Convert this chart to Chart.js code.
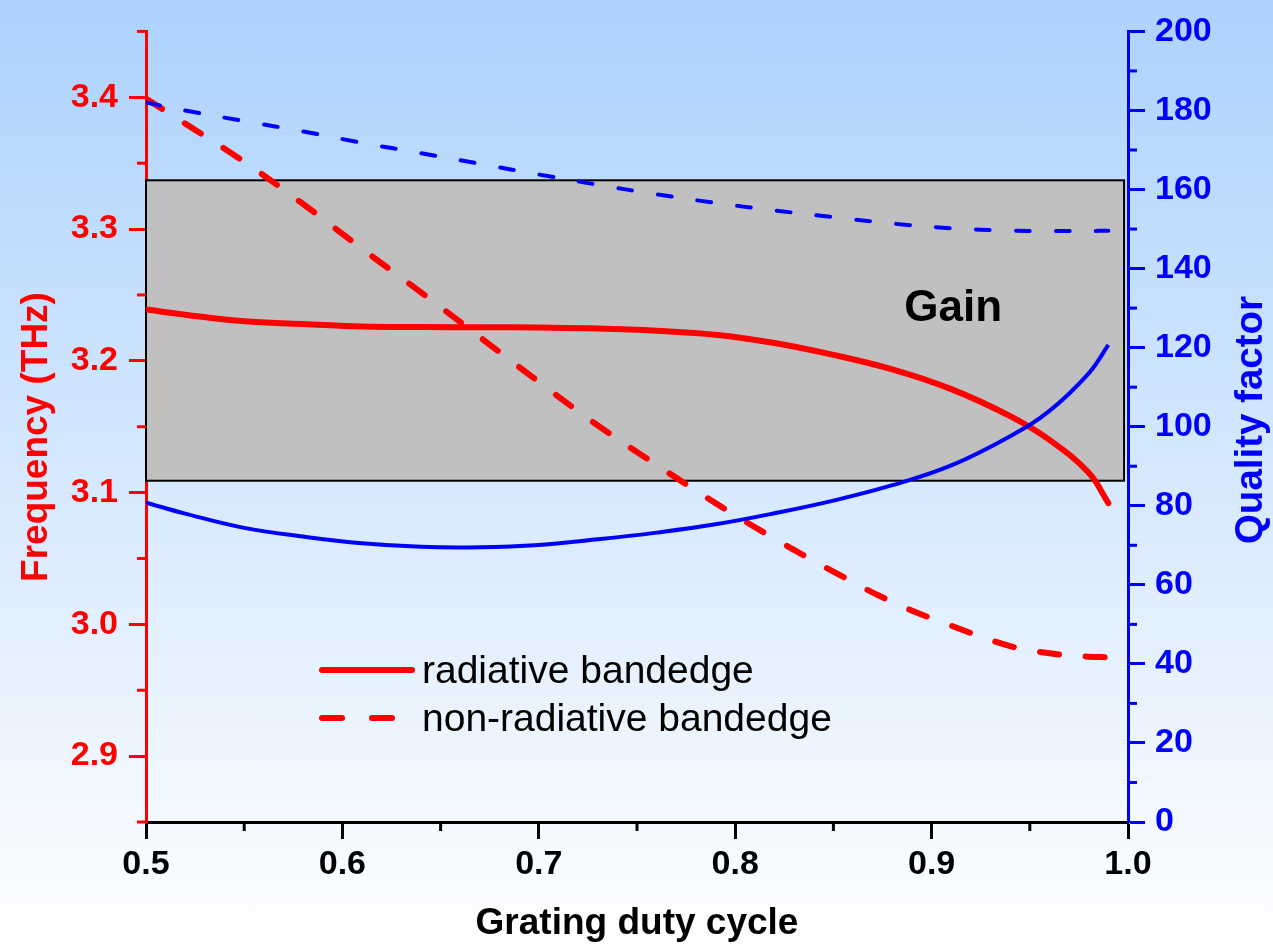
<!DOCTYPE html>
<html>
<head>
<meta charset="utf-8">
<script src="https://cdn.jsdelivr.net/npm/chart.js@4.4.1/dist/chart.umd.min.js"></script>
<style>
html, body { margin: 0; padding: 0; }
body { width: 1273px; height: 949px; background: linear-gradient(to bottom, #acd2fd 0%, #ffffff 100%); }
</style>
</head>
<body>
<canvas id="myChart" width="1273" height="949"></canvas>
<script>
// grating duty cycle (x)
var duty = [0.50, 0.52, 0.55, 0.58, 0.61, 0.64, 0.67, 0.70, 0.73, 0.76, 0.79, 0.82, 0.85, 0.88, 0.91, 0.94, 0.96, 0.98, 0.99];

// frequency (THz), left axis
var radiative    = [3.239, 3.235, 3.230, 3.228, 3.226, 3.2256, 3.2255, 3.2252, 3.2245, 3.2228, 3.2198, 3.2135, 3.2045, 3.1935, 3.1785, 3.158, 3.140, 3.115, 3.092];
var nonRadiative = [3.399, 3.380, 3.351, 3.319, 3.285, 3.252, 3.218, 3.184, 3.151, 3.121, 3.092, 3.065, 3.040, 3.017, 2.999, 2.9835, 2.978, 2.9755, 2.975];

// quality factor, right axis
var qRadiative    = [80.8, 78.0, 74.4, 72.2, 70.5, 69.6, 69.5, 70.1, 71.5, 73.2, 75.3, 78.1, 81.3, 85.2, 90.2, 97.6, 104.0, 113.5, 120.7];
var qNonRadiative = [182.0, 180.0, 177.3, 174.7, 171.8, 169.2, 166.5, 163.8, 161.2, 158.8, 156.6, 154.7, 153.0, 151.4, 150.2, 149.6, 149.5, 149.5, 149.6];

// tick values
var xTicks = [0.5, 0.6, 0.7, 0.8, 0.9, 1.0];
var freqTicks = [2.9, 3.0, 3.1, 3.2, 3.3, 3.4];
var qTicks = [0, 20, 40, 60, 80, 100, 120, 140, 160, 180, 200];
var xMinor = [0.55, 0.65, 0.75, 0.85, 0.95];
var freqMinor = [2.85, 2.95, 3.05, 3.15, 3.25, 3.35, 3.45];
var qMinor = [10, 30, 50, 70, 90, 110, 130, 150, 170, 190];

// gain window (THz) and where the box stops on x
var gainBand = [3.109, 3.337];
var gainEnd = 0.998;

var FONT = '"Liberation Sans", Arial, Helvetica, sans-serif';
var RED = '#ff0000';
var BLUE = '#0000ff';

function pts(ys) {
    return duty.map(function (x, i) { return { x: x, y: ys[i] }; });
}

function fixedTicks(vals) {
    return function (s) { s.ticks = vals.map(function (v) { return { value: v }; }); };
}

// grey gain box + label, under the curves
var gainBox = {
    id: 'gainBox',
    beforeDatasetsDraw: function (chart) {
        var c = chart.ctx, sx = chart.scales.x, sy = chart.scales.y;
        var x0 = sx.getPixelForValue(0.5), x1 = sx.getPixelForValue(gainEnd);
        var y0 = sy.getPixelForValue(gainBand[1]), y1 = sy.getPixelForValue(gainBand[0]);
        c.save();
        c.fillStyle = '#c0c0c0';
        c.fillRect(x0, y0, x1 - x0, y1 - y0);
        c.strokeStyle = '#000';
        c.lineWidth = 2;
        c.strokeRect(x0, y0, x1 - x0, y1 - y0);
        c.fillStyle = '#000';
        c.font = 'bold 44px ' + FONT;
        c.textAlign = 'center';
        c.textBaseline = 'alphabetic';
        c.fillText('Gain', sx.getPixelForValue(0.911), sy.getPixelForValue(3.23));
        c.restore();
    }
};

// minor ticks, y titles, legend
var extras = {
    id: 'extras',
    afterDraw: function (chart) {
        var c = chart.ctx, a = chart.chartArea;
        var sx = chart.scales.x, sy = chart.scales.y, sq = chart.scales.y2;
        c.save();
        c.lineWidth = 3;
        c.lineCap = 'butt';

        c.strokeStyle = '#000';
        xMinor.forEach(function (v) {
            var p = sx.getPixelForValue(v);
            c.beginPath(); c.moveTo(p, a.bottom); c.lineTo(p, a.bottom + 9); c.stroke();
        });
        c.strokeStyle = RED;
        freqMinor.forEach(function (v) {
            var p = sy.getPixelForValue(v);
            c.beginPath(); c.moveTo(a.left, p); c.lineTo(a.left - 9, p); c.stroke();
        });
        c.strokeStyle = BLUE;
        qMinor.forEach(function (v) {
            var p = sq.getPixelForValue(v);
            c.beginPath(); c.moveTo(a.right, p); c.lineTo(a.right + 9, p); c.stroke();
        });

        // axis titles, both read bottom to top
        c.textAlign = 'center';
        c.textBaseline = 'alphabetic';
        c.save();
        c.font = 'bold 37px ' + FONT;
        c.translate(47, 437);
        c.rotate(-Math.PI / 2);
        c.fillStyle = RED;
        c.fillText('Frequency (THz)', 0, 0);
        c.restore();
        c.save();
        c.font = 'bold 38.5px ' + FONT;
        c.translate(1262, 420);
        c.rotate(-Math.PI / 2);
        c.fillStyle = BLUE;
        c.fillText('Quality factor', 0, 0);
        c.restore();

        // legend for the two frequency curves
        var lx = a.left + 176, ly = [670, 718];
        var sets = [chart.data.datasets[2], chart.data.datasets[3]];
        c.font = '39px ' + FONT;
        c.textAlign = 'left';
        c.textBaseline = 'middle';
        sets.forEach(function (ds, i) {
            c.strokeStyle = ds.borderColor;
            c.lineWidth = ds.borderWidth;
            c.lineCap = 'round';
            c.setLineDash(i === 0 ? [] : [20, 30]);
            c.beginPath(); c.moveTo(lx, ly[i]); c.lineTo(lx + 90, ly[i]); c.stroke();
            c.setLineDash([]);
            c.fillStyle = '#000';
            c.fillText(ds.label, lx + 100, ly[i] + 2);
        });
        c.restore();
    }
};

var ctx = document.getElementById('myChart').getContext('2d');

var myChart = new Chart(ctx, {
    type: 'line',
    data: {
        datasets: [
            {
                label: 'Q radiative',
                data: pts(qRadiative),
                yAxisID: 'y2',
                borderColor: BLUE,
                borderWidth: 4
            },
            {
                label: 'Q non-radiative',
                data: pts(qNonRadiative),
                yAxisID: 'y2',
                borderColor: BLUE,
                borderWidth: 4,
                borderDash: [14, 26],
                borderCapStyle: 'round'
            },
            {
                label: 'radiative bandedge',
                data: pts(radiative),
                yAxisID: 'y',
                borderColor: RED,
                borderWidth: 6,
                borderCapStyle: 'round'
            },
            {
                label: 'non-radiative bandedge',
                data: pts(nonRadiative),
                yAxisID: 'y',
                borderColor: RED,
                borderWidth: 6,
                borderDash: [19, 27],
                borderCapStyle: 'round'
            }
        ]
    },
    options: {
        responsive: false,
        animation: false,
        devicePixelRatio: 1,
        layout: { padding: { top: 29 } },
        elements: {
            point: { radius: 0 },
            line: { tension: 0.4 }
        },
        plugins: {
            legend: { display: false },
            tooltip: { enabled: false }
        },
        scales: {
            x: {
                type: 'linear',
                position: 'bottom',
                min: 0.5,
                max: 1.0,
                afterBuildTicks: fixedTicks(xTicks),
                border: { color: '#000', width: 3 },
                grid: { drawOnChartArea: false, drawTicks: true, tickLength: 17, tickWidth: 3, tickColor: '#000' },
                ticks: {
                    padding: 5,
                    color: '#000',
                    font: { family: FONT, size: 34, weight: 'bold' },
                    callback: function (v) { return v.toFixed(1); }
                },
                title: {
                    display: true,
                    text: 'Grating duty cycle',
                    color: '#000',
                    font: { family: FONT, size: 37, weight: 'bold' },
                    padding: { top: 0, bottom: 3 }
                },
                afterFit: function (s) { s.height = 127; }
            },
            y: {
                type: 'linear',
                position: 'left',
                min: 2.85,
                max: 3.45,
                afterBuildTicks: fixedTicks(freqTicks),
                border: { color: RED, width: 3 },
                grid: { drawOnChartArea: false, drawTicks: true, tickLength: 17, tickWidth: 3, tickColor: RED },
                ticks: {
                    padding: 11,
                    color: RED,
                    font: { family: FONT, size: 34, weight: 'bold' },
                    callback: function (v) { return v.toFixed(1); }
                },
                afterFit: function (s) { s.width = 146; }
            },
            y2: {
                type: 'linear',
                position: 'right',
                min: 0,
                max: 200,
                afterBuildTicks: fixedTicks(qTicks),
                border: { color: BLUE, width: 3 },
                grid: { drawOnChartArea: false, drawTicks: true, tickLength: 17, tickWidth: 3, tickColor: BLUE },
                ticks: {
                    padding: 10,
                    color: BLUE,
                    font: { family: FONT, size: 34, weight: 'bold' }
                },
                afterFit: function (s) { s.width = 145; }
            }
        }
    },
    plugins: [gainBox, extras]
});
</script>
</body>
</html>
